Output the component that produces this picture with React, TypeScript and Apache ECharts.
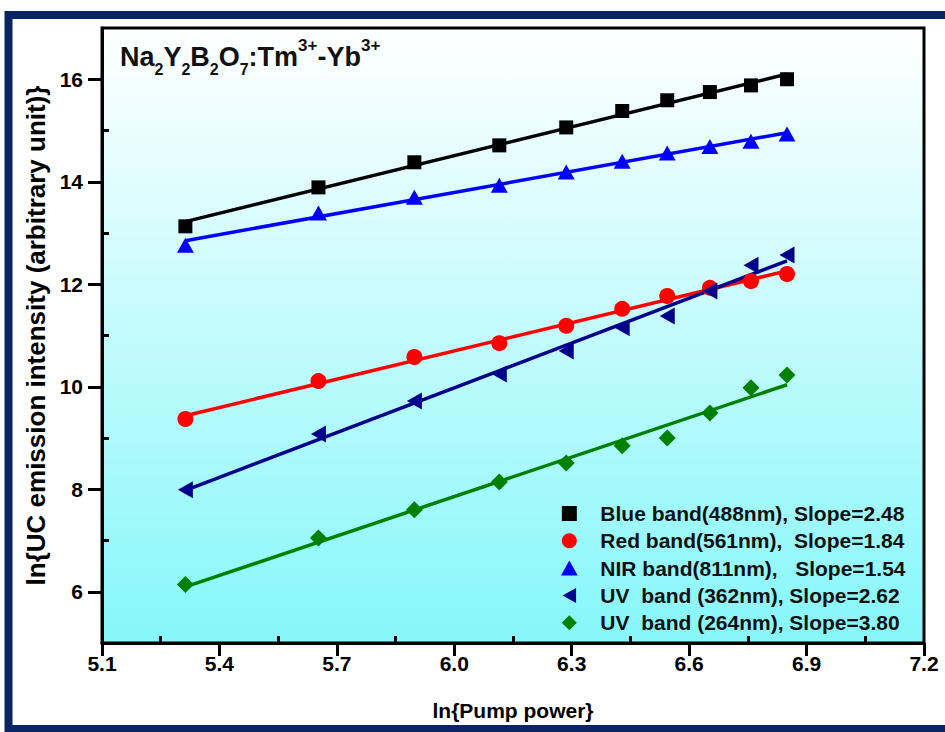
import React, { useEffect, useRef } from "react";
import * as echarts from "echarts";

// ln{Pump power}
const lnPower = [5.313, 5.653, 5.898, 6.115, 6.286, 6.429, 6.544, 6.653, 6.758, 6.85];
// ln{UC emission intensity}
const blue488 = [13.13, 13.89, 14.38, 14.71, 15.06, 15.38, 15.59, 15.75, 15.88, 16.0];
const red561 = [9.37, 10.11, 10.58, 10.85, 11.19, 11.52, 11.77, 11.93, 12.06, 12.2];
const nir811 = [12.76, 13.39, 13.7, 13.93, 14.19, 14.4, 14.56, 14.69, 14.79, 14.93];
const uv362 = [7.99, 9.08, 9.72, 10.25, 10.7, 11.15, 11.38, 11.87, 12.37, 12.57];
const uv264 = [6.14, 7.05, 7.6, 8.14, 8.51, 8.85, 9.0, 9.49, 9.98, 10.23];

const legendNames = [
  "Blue band(488nm), Slope=2.48",
  "Red band(561nm),  Slope=1.84",
  "NIR band(811nm),   Slope=1.54",
  "UV  band (362nm), Slope=2.62",
  "UV  band (264nm), Slope=3.80",
];

const xTicks = [5.1, 5.4, 5.7, 6.0, 6.3, 6.6, 6.9, 7.2];
const xMinorTicks = [5.25, 5.55, 5.85, 6.15, 6.45, 6.75, 7.05];
const yTicks = [6, 8, 10, 12, 14, 16];
const yMinorTicks = [7, 9, 11, 13, 15];

const FONT = "Liberation Sans, Arial, sans-serif";

const SQUARE = "path://M0,0L10,0L10,10L0,10Z";
const TRI_UP = "path://M5,0L10,9L0,9Z";
const TRI_LEFT = "path://M0,5L9,0L9,10Z";
const DIAMOND = "path://M5,0L10,5L5,10L0,5Z";

function linFit(xs: number[], ys: number[]) {
  const n = xs.length;
  const mx = xs.reduce((a, b) => a + b, 0) / n;
  const my = ys.reduce((a, b) => a + b, 0) / n;
  let sxy = 0;
  let sxx = 0;
  for (let i = 0; i < n; i++) {
    sxy += (xs[i] - mx) * (ys[i] - my);
    sxx += (xs[i] - mx) * (xs[i] - mx);
  }
  const k = sxy / sxx;
  const b = my - k * mx;
  const x0 = xs[0];
  const x1 = xs[n - 1];
  return [
    [x0, k * x0 + b],
    [x1, k * x1 + b],
  ];
}

export default function App() {
  const ref = useRef<HTMLDivElement>(null);
  useEffect(() => {
    if (!ref.current) return;
    const chart = echarts.init(ref.current, null, { renderer: "svg" });
    const sets = [
      { name: legendNames[0], data: blue488, color: "#000000", symbol: SQUARE, size: [14, 14] },
      { name: legendNames[1], data: red561, color: "#ff0000", symbol: "circle", size: 16 },
      { name: legendNames[2], data: nir811, color: "#0000ff", symbol: TRI_UP, size: [17, 15] },
      { name: legendNames[3], data: uv362, color: "#00008b", symbol: TRI_LEFT, size: [15, 17] },
      { name: legendNames[4], data: uv264, color: "#008000", symbol: DIAMOND, size: [17, 17] },
    ];
    const series: any[] = [];
    sets.forEach((s, i) => {
      series.push({
        name: "fit" + i,
        type: "line",
        data: linFit(lnPower, s.data),
        showSymbol: false,
        symbol: "none",
        lineStyle: { color: s.color, width: 3.5 },
        z: 2,
        silent: true,
      });
    });
    sets.forEach((s) => {
      series.push({
        name: s.name,
        type: "scatter",
        data: lnPower.map((x, j) => [x, s.data[j]]),
        symbol: s.symbol,
        symbolSize: s.size,
        itemStyle: { color: s.color, opacity: 1 },
        z: 3,
      });
    });

    const axisText = { fontSize: 21, fontWeight: "bold", color: "#000", fontFamily: FONT };

    chart.setOption({
      animation: false,
      backgroundColor: "#ffffff",
      grid: {
        left: 102,
        top: 28,
        right: 21,
        bottom: 89,
        show: true,
        borderColor: "#000",
        borderWidth: 3,
        backgroundColor: {
          type: "linear",
          x: 0,
          y: 0,
          x2: 0,
          y2: 1,
          colorStops: [
            { offset: 0, color: "#ffffff" },
            { offset: 1, color: "#86f7fa" },
          ],
        },
      },
      xAxis: [
        {
          type: "value",
          min: 5.1,
          max: 7.2,
          position: "bottom",
          name: "ln{Pump power}",
          nameLocation: "middle",
          nameGap: 57,
          nameTextStyle: { fontSize: 21, fontWeight: "bold", color: "#000", fontFamily: FONT },
          axisLine: { show: true, lineStyle: { color: "#000", width: 3 } },
          axisTick: { show: true, customValues: xTicks, length: 13, lineStyle: { color: "#000", width: 3 } },
          axisLabel: { customValues: xTicks, formatter: (v: number) => v.toFixed(1), margin: 10, ...axisText },
          splitLine: { show: false },
        },
        {
          type: "value",
          min: 5.1,
          max: 7.2,
          position: "bottom",
          axisLine: { show: false },
          axisTick: { show: true, inside: true, customValues: xMinorTicks, length: 7, lineStyle: { color: "#000", width: 3 } },
          axisLabel: { show: false },
          splitLine: { show: false },
        },
      ],
      yAxis: [
        {
          type: "value",
          min: 5,
          max: 17,
          position: "left",
          name: "ln{UC emission intensity (arbitrary unit)}",
          nameLocation: "middle",
          nameGap: 50,
          nameTextStyle: { fontSize: 26, fontWeight: "bold", color: "#000", fontFamily: FONT },
          axisLine: { show: true, lineStyle: { color: "#000", width: 3 } },
          axisTick: { show: true, customValues: yTicks, length: 14, lineStyle: { color: "#000", width: 3 } },
          axisLabel: { customValues: yTicks, margin: 19, ...axisText },
          splitLine: { show: false },
        },
        {
          type: "value",
          min: 5,
          max: 17,
          position: "left",
          axisLine: { show: false },
          axisTick: { show: true, inside: true, customValues: yMinorTicks, length: 7, lineStyle: { color: "#000", width: 3 } },
          axisLabel: { show: false },
          splitLine: { show: false },
        },
      ],
      legend: {
        data: [
          { name: legendNames[0], icon: SQUARE },
          { name: legendNames[1], icon: "circle" },
          { name: legendNames[2], icon: TRI_UP },
          { name: legendNames[3], icon: TRI_LEFT },
          { name: legendNames[4], icon: DIAMOND },
        ],
        orient: "vertical",
        left: 561,
        top: 503,
        padding: 0,
        itemWidth: 52,
        itemHeight: 15,
        itemGap: 6.3,
        symbolKeepAspect: true,
        textStyle: { fontSize: 21, fontWeight: "bold", color: "#111", fontFamily: FONT, lineHeight: 20 },
      },
      graphic: [
        {
          type: "rect",
          shape: { x: 8.5, y: 15, width: 1000, height: 714 },
          style: { fill: "none", stroke: "#0b2463", lineWidth: 8 },
          silent: true,
          z: 100,
        },
        {
          type: "text",
          x: 120,
          y: 37,
          style: {
            text: "{m|Na}{s|2}{m|Y}{s|2}{m|B}{s|2}{m|O}{s|7}{m|:Tm}{p|3+}{m|-Yb}{p|3+}",
            verticalAlign: "top",
            rich: {
              m: { fontSize: 27, fontWeight: "bold", lineHeight: 40, fontFamily: FONT, fill: "#111" },
              s: { fontSize: 16, fontWeight: "bold", lineHeight: 4, verticalAlign: "bottom", fontFamily: FONT, fill: "#111" },
              p: { fontSize: 17, fontWeight: "bold", lineHeight: 6, verticalAlign: "top", fontFamily: FONT, fill: "#111" },
            },
          },
          z: 50,
        },
      ],
      series,
    });
    return () => chart.dispose();
  }, []);
  return (
    <div
      ref={ref}
      style={{ position: "fixed", left: 0, top: 0, width: 945, height: 732, background: "#fff" }}
    />
  );
}
